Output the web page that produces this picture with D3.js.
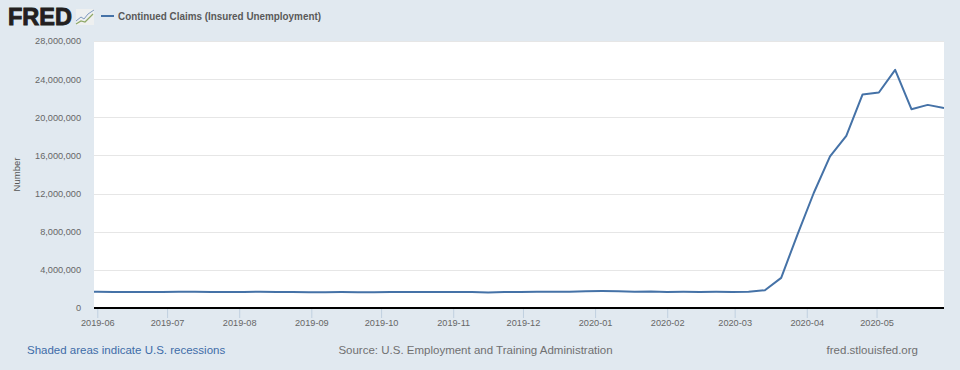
<!DOCTYPE html>
<html>
<head>
<meta charset="utf-8">
<script src="https://cdn.jsdelivr.net/npm/d3@7"></script>
<style>
html, body { margin: 0; padding: 0; background: #e1e9f0; }
svg { display: block; font-family: "Liberation Sans", Arial, sans-serif; }
.x-axis .domain { display: none; }
.y-axis .domain, .y-axis line { display: none; }
</style>
</head>
<body>
<div id="chart-area"></div>
<script>
var width = 960;
var height = 370;
var margin = {top: 41, right: 16, bottom: 62, left: 94};

var seriesName = "Continued Claims (Insured Unemployment)";

// weekly, saturdays
var weeks = [
  "2019-05-25", "2019-06-01", "2019-06-08", "2019-06-15", "2019-06-22", "2019-06-29",
  "2019-07-06", "2019-07-13", "2019-07-20", "2019-07-27", "2019-08-03", "2019-08-10",
  "2019-08-17", "2019-08-24", "2019-08-31", "2019-09-07", "2019-09-14", "2019-09-21",
  "2019-09-28", "2019-10-05", "2019-10-12", "2019-10-19", "2019-10-26", "2019-11-02",
  "2019-11-09", "2019-11-16", "2019-11-23", "2019-11-30", "2019-12-07", "2019-12-14",
  "2019-12-21", "2019-12-28", "2020-01-04", "2020-01-11", "2020-01-18", "2020-01-25",
  "2020-02-01", "2020-02-08", "2020-02-15", "2020-02-22", "2020-02-29", "2020-03-07",
  "2020-03-14", "2020-03-21", "2020-03-28", "2020-04-04", "2020-04-11", "2020-04-18",
  "2020-04-25", "2020-05-02", "2020-05-09", "2020-05-16", "2020-05-23", "2020-05-30"
];

var claims = [
  1710000, 1700000, 1665000, 1675000, 1690000, 1685000,
  1715000, 1700000, 1670000, 1685000, 1690000, 1705000,
  1665000, 1685000, 1660000, 1660000, 1665000, 1650000,
  1640000, 1680000, 1665000, 1685000, 1685000, 1680000,
  1685000, 1630000, 1675000, 1680000, 1705000, 1700000,
  1700000, 1760000, 1770000, 1750000, 1700000, 1730000,
  1675000, 1700000, 1690000, 1700000, 1680000, 1700000,
  1860000, 3160000, 7700000, 12060000, 15900000, 18060000,
  22400000, 22600000, 24970000, 20850000, 21300000, 20960000
];

var yTickValues = [0, 4000000, 8000000, 12000000, 16000000, 20000000, 24000000, 28000000];
var monthTicks = [
  "2019-06-01", "2019-07-01", "2019-08-01", "2019-09-01", "2019-10-01", "2019-11-01",
  "2019-12-01", "2020-01-01", "2020-02-01", "2020-03-01", "2020-04-01", "2020-05-01"
];

var footLeft = "Shaded areas indicate U.S. recessions";
var footMiddle = "Source: U.S. Employment and Training Administration";
var footRight = "fred.stlouisfed.org";

var parseDay = d3.timeParse("%Y-%m-%d");
var plotWidth = width - margin.left - margin.right;
var plotHeight = height - margin.top - margin.bottom;

var svg = d3.select("#chart-area").append("svg")
  .attr("width", width)
  .attr("height", height);

svg.append("rect")
  .attr("width", width)
  .attr("height", height)
  .attr("fill", "#e1e9f0");

// logo
var logo = svg.append("g").attr("class", "logo");
logo.append("text")
  .attr("x", 8)
  .attr("y", 25)
  .attr("font-size", "23px")
  .attr("font-weight", "bold")
  .attr("fill", "#231f20")
  .attr("stroke", "#231f20")
  .attr("stroke-width", 0.9)
  .attr("textLength", 64)
  .attr("lengthAdjust", "spacingAndGlyphs")
  .text("FRED");
logo.append("rect")
  .attr("x", 76).attr("y", 9).attr("width", 18).attr("height", 16)
  .attr("fill", "#eef0f0");
logo.append("path")
  .attr("d", "M76 21L81 17L84 19L88 14L94 10")
  .attr("fill", "none").attr("stroke", "#7f9ac0").attr("stroke-width", 1);
logo.append("path")
  .attr("d", "M76 24L81 21L85 22L89 18L93 14")
  .attr("fill", "none").attr("stroke", "#8fa866").attr("stroke-width", 1.2);

// legend
svg.append("line")
  .attr("x1", 101).attr("x2", 114)
  .attr("y1", 16).attr("y2", 16)
  .attr("stroke", "#4572a7")
  .attr("stroke-width", 2);
svg.append("text")
  .attr("x", 118)
  .attr("y", 20)
  .attr("font-size", "10px")
  .attr("font-weight", "bold")
  .attr("fill", "#595959")
  .attr("textLength", 203)
  .attr("lengthAdjust", "spacingAndGlyphs")
  .text(seriesName);

var g = svg.append("g")
  .attr("transform", "translate(" + margin.left + ", " + margin.top + ")");

g.append("rect")
  .attr("width", plotWidth)
  .attr("height", plotHeight)
  .attr("fill", "#fff");

g.append("clipPath")
  .attr("id", "plot-clip")
  .append("rect")
  .attr("width", plotWidth)
  .attr("height", plotHeight);

var x = d3.scaleTime()
  .domain([new Date(2019, 4, 30, 14), new Date(2020, 4, 30, 0)])
  .range([0, plotWidth]);

var y = d3.scaleLinear()
  .domain([0, 28000000])
  .range([plotHeight, 0]);

// grid
g.selectAll(".grid")
  .data(yTickValues.slice(1))
  .enter().append("line")
  .attr("class", "grid")
  .attr("x1", 0)
  .attr("x2", plotWidth)
  .attr("y1", d => Math.round(y(d)) + 0.5)
  .attr("y2", d => Math.round(y(d)) + 0.5)
  .attr("stroke", "#e6e6e6");

var yAxisCall = d3.axisLeft(y)
  .tickValues(yTickValues)
  .tickSize(0)
  .tickPadding(13)
  .tickFormat(d3.format(","));

var yAxisGroup = g.append("g")
  .attr("class", "y-axis")
  .call(yAxisCall);
yAxisGroup.selectAll("text")
  .attr("font-size", "9.2px")
  .attr("fill", "#666")
  .attr("font-family", "'Liberation Sans', Arial, sans-serif");

var xAxisCall = d3.axisBottom(x)
  .tickValues(monthTicks.map(parseDay))
  .tickSize(10)
  .tickPadding(1)
  .tickFormat(d3.timeFormat("%Y-%m"));

var xAxisGroup = g.append("g")
  .attr("class", "x-axis")
  .attr("transform", "translate(0, " + plotHeight + ")")
  .call(xAxisCall);
xAxisGroup.selectAll("line").attr("stroke", "#c0d0e0");
xAxisGroup.selectAll("text")
  .attr("font-size", "9.2px")
  .attr("fill", "#666")
  .attr("font-family", "'Liberation Sans', Arial, sans-serif");

// line
var line = d3.line()
  .x((d, i) => x(parseDay(weeks[i])))
  .y(d => y(d));

g.append("path")
  .datum(claims)
  .attr("clip-path", "url(#plot-clip)")
  .attr("d", line)
  .attr("fill", "none")
  .attr("stroke", "#4572a7")
  .attr("stroke-width", 2)
  .attr("stroke-linejoin", "round");

// baseline
g.append("line")
  .attr("x1", 0)
  .attr("x2", plotWidth)
  .attr("y1", plotHeight)
  .attr("y2", plotHeight)
  .attr("stroke", "#000")
  .attr("stroke-width", 2);

// y label
g.append("text")
  .attr("transform", "rotate(-90)")
  .attr("x", -(plotHeight / 2))
  .attr("y", -74)
  .attr("text-anchor", "middle")
  .attr("font-size", "9.5px")
  .attr("fill", "#555")
  .text("Number");

// footer
svg.append("text")
  .attr("x", 27).attr("y", 354)
  .attr("font-size", "11.5px")
  .attr("fill", "#3e6ca8")
  .text(footLeft);
svg.append("text")
  .attr("x", 475.5).attr("y", 354)
  .attr("text-anchor", "middle")
  .attr("font-size", "11.5px")
  .attr("fill", "#707070")
  .text(footMiddle);
svg.append("text")
  .attr("x", 918).attr("y", 354)
  .attr("text-anchor", "end")
  .attr("font-size", "11.5px")
  .attr("fill", "#707070")
  .text(footRight);
</script>
</body>
</html>
